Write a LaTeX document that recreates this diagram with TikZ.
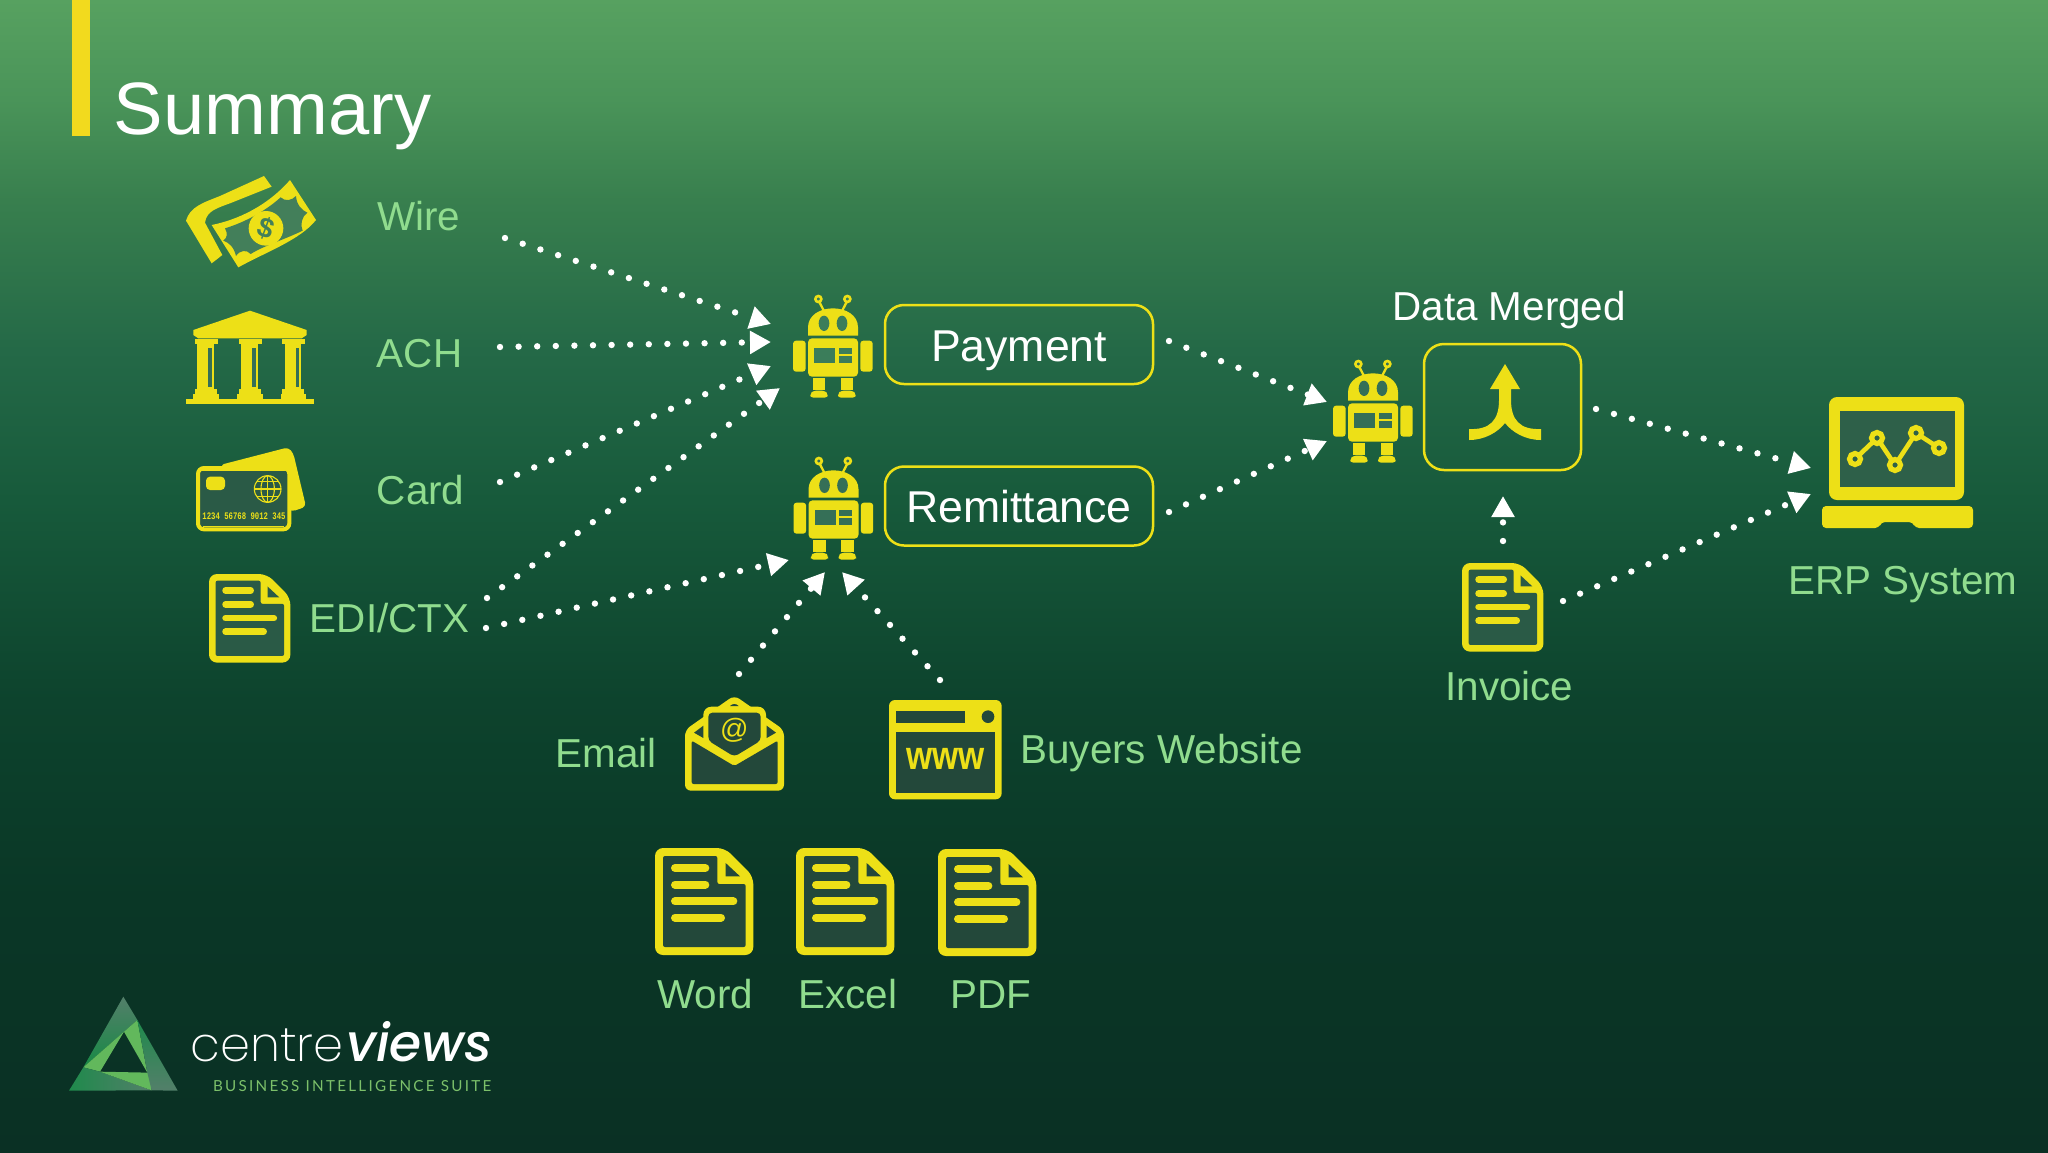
\documentclass[tikz,border=0pt]{standalone}
\usepackage{fontspec}
\usepackage{graphicx}
\setmainfont{Liberation Sans}
\newfontfamily\mymono{Liberation Mono}[Scale=1]
\newfontfamily\logolight{Poppins ExtraLight}
\newfontfamily\logobold{Poppins Medium Italic}
\newfontfamily\logotag[LetterSpace=15]{Lato}
\usetikzlibrary{arrows.meta,calc}
\definecolor{ylw}{HTML}{EDE017}
\definecolor{barylw}{HTML}{F2DA1E}
\definecolor{lbl}{HTML}{90DC8E}
\definecolor{tagc}{HTML}{7CC06A}
\definecolor{bg0}{HTML}{0A3024}
\definecolor{bg1}{HTML}{0A3726}
\definecolor{bg2}{HTML}{0D432D}
\definecolor{bg3}{HTML}{175A3B}
\definecolor{bg4}{HTML}{246947}
\definecolor{bg5}{HTML}{387F4E}
\definecolor{bg6}{HTML}{4A9459}
\definecolor{bg7}{HTML}{57A160}
\definecolor{inA}{HTML}{3B7D5A}
\definecolor{inB}{HTML}{356F57}
\definecolor{inC}{HTML}{2E6049}
\definecolor{inD}{HTML}{2A5A46}
\definecolor{inE}{HTML}{23483A}
\definecolor{billin}{HTML}{437F5A}
\definecolor{logoA}{HTML}{1F8A4C}
\definecolor{logoB}{HTML}{537F6A}
\definecolor{logoC}{HTML}{62B85C}
\definecolor{logoD}{HTML}{178A45}
\pgfdeclareverticalshading{bgshade}{100bp}{color(0bp)=(bg0); color(25bp)=(bg0); color(36bp)=(bg1); color(44.6bp)=(bg2); color(53.3bp)=(bg3); color(59.8bp)=(bg4); color(66.3bp)=(bg5); color(70.7bp)=(bg6); color(75bp)=(bg7); color(100bp)=(bg7)}
\tikzset{
  x=0.5pt,y=-0.5pt,
  lab/.style={font=\fontsize{20.2pt}{24pt}\selectfont,text=lbl,inner sep=0pt},
  whitelab/.style={font=\fontsize{20.2pt}{24pt}\selectfont,text=white,inner sep=0pt},
  flowbox/.style={draw=ylw,line width=1.25pt,rounded corners=9.5pt,inner sep=0pt,minimum width=134pt,minimum height=39.5pt,text=white,font=\fontsize{22.3pt}{26pt}\selectfont,text height=16.5pt,text depth=0pt},
  dotflow/.style={white,line width=3.2pt,line cap=round,dash pattern=on 0pt off 9.3pt,-{Triangle[length=10.5pt,width=11pt]}},
}
\newcommand{\docicon}[4]{%
  \begin{scope}[shift={(#1,#2)},scale=#3]
    \fill[ylw,rounded corners=4pt] (0,0) -- (210,0) -- (295,85) -- (295,321) -- (0,321) -- cycle;
    \fill[#4,rounded corners=1pt] (24,24) -- (187,24) -- (187,108) -- (272,108) -- (272,297) -- (24,297) -- cycle;
    \fill[#4] (212,45) -- (255,85) -- (212,85) -- cycle;
    \foreach \ya/\xb in {60/151,110/151,160/235,209/198}
      \draw[ylw,line cap=round,line width={(#3)*12pt}] (60,\ya) -- (\xb,\ya);
  \end{scope}}
\newcommand{\roboticon}[3]{%
  \begin{scope}[shift={(#1,#2)},scale=1/3,shift={(-98,-75)}]
    \fill[ylw] (143,197) -- (143,172) .. controls (143,135) and (180,115) .. (218,115) .. controls (256,115) and (293,135) .. (293,172) -- (293,197) -- cycle;
    \fill[#3] (191,160) ellipse [x radius=16,y radius=23];
    \fill[#3] (245,160) ellipse [x radius=16,y radius=23];
    \fill[ylw,rounded corners=2pt] (143,205) rectangle (293,320);
    \fill[ylw,rounded corners=1.5pt] (98,212) rectangle (136,305);
    \fill[ylw,rounded corners=1.5pt] (300,212) rectangle (337,305);
    \fill[ylw] (157,323) rectangle (195,360);
    \fill[ylw] (241,323) rectangle (279,360);
    \fill[ylw,rounded corners=1.5pt] (150,383) -- (150,372) -- (158,362) -- (194,362) -- (202,372) -- (202,383) -- cycle;
    \fill[ylw,rounded corners=1.5pt] (233,383) -- (233,372) -- (241,362) -- (278,362) -- (286,372) -- (286,383) -- cycle;
    \fill[#3] (162,234) rectangle (225,280);
    \fill[#3] (235,234) rectangle (274,252);
    \fill[#3] (235,258) rectangle (274,280);
    \draw[ylw,line width=1.15pt] (192,125) -- (177,96);
    \draw[ylw,line width=1.15pt] (244,125) -- (259,96);
    \draw[ylw,line width=1.3pt,fill=#3] (174,87) circle [radius=9];
    \draw[ylw,line width=1.3pt,fill=#3] (261,87) circle [radius=9];
  \end{scope}}
\begin{document}
\begin{tikzpicture}
\useasboundingbox (0,0) rectangle (2048,1152);
\shade[shading=bgshade] (0,0) rectangle (2048,1152);
% title
\fill[barylw] (72,0) rectangle (90,136);
\node[anchor=base west,inner sep=0pt,text=white,font=\fontsize{37.1pt}{44pt}\selectfont] (title) at (113.5,134) {Summary};
% Wire, bank, card icons, drawn in the coordinates of the 3x crop
\begin{scope}[shift={(160,160)},scale=1/3]
  % wire
  \fill[ylw] (78,182) .. controls (90,140) and (130,128) .. (180,108) -- (312,48) -- (335,80) -- (215,128) .. controls (170,145) and (140,152) .. (135,188) -- (187,285) -- (155,310) -- cycle;
  \fill[ylw] (155,195) .. controls (230,180) and (320,140) .. (390,60) -- (468,180) .. controls (420,240) and (320,275) .. (235,322) -- cycle;
  \fill[billin] (195,205) .. controls (260,185) and (320,150) .. (362,112) .. controls (375,125) and (395,122) .. (408,108) .. controls (410,135) and (425,150) .. (442,158) .. controls (425,170) and (420,195) .. (428,212) .. controls (370,240) and (310,258) .. (272,282) .. controls (260,268) and (240,270) .. (228,288) .. controls (222,262) and (208,248) .. (190,242) .. controls (203,232) and (203,220) .. (195,205) -- cycle;
  \fill[ylw] (318,205) circle [radius=52];
  \node[rotate=-20,inner sep=0pt,text=billin,font=\fontsize{14pt}{17pt}\selectfont\bfseries] (dollar) at (318,205) {\$};
  % bank
  \fill[ylw] (100,510) -- (270,452) -- (440,510) -- (440,525) -- (425,535) -- (115,535) -- (100,525) -- cycle;
  \foreach \cx in {105,237,367} {
    \fill[ylw] (\cx,538) rectangle (\cx+68,552);
    \fill[ylw] (\cx+7,552) rectangle (\cx+57,690);
    \fill[ylw] (\cx,688) rectangle (\cx+66,704);
    \fill[ylw] (\cx-5,702) rectangle (\cx+71,716);
    \fill[inB] (\cx+40,565) rectangle (\cx+50,680);
  }
  \fill[ylw] (78,718) rectangle (462,732);
  % card
  \fill[ylw,rounded corners=2pt] (180,915) -- (385,862) -- (400,880) -- (438,1040) -- (395,1055) -- cycle;
  \draw[ylw,line width=2pt,fill=inD,rounded corners=3pt] (114,924) rectangle (388,1108);
  \draw[ylw,line width=.5pt] (125,930) -- (378,930);
  \draw[ylw,line width=.8pt] (130,1100) -- (372,1100);
  \fill[ylw,rounded corners=2pt] (138,950) rectangle (195,990);
  \begin{scope}[ylw,line width=.55pt]
    \draw (323,987) circle [radius=40];
    \draw (323,987) ellipse [x radius=20,y radius=40];
    \draw (323,947) -- (323,1027);
    \draw (283,987) -- (363,987);
    \draw (290,965) -- (356,965);
    \draw (290,1009) -- (356,1009);
  \end{scope}
  \node[inner sep=0pt,text=ylw,font=\mymono\fontsize{5pt}{6pt}\selectfont\bfseries] (cardnum) at (252,1068) {\scalebox{.73}[1]{1234 56768 9012 345}};
\end{scope}
% document icons
\docicon{209}{574}{.276}{inD}
\docicon{655}{848}{1/3}{inE}
\docicon{796}{848}{1/3}{inE}
\docicon{938}{849}{1/3}{inE}
\docicon{1462}{563}{.276}{inD}
% robots
\roboticon{793}{295}{inA}
\roboticon{793.5}{457}{inB}
\roboticon{1333}{360}{inB}
% labels
\node[lab,anchor=base west] (wire) at (377,230) {Wire};
\node[lab,anchor=base west] (ach) at (376.5,367) {ACH};
\node[lab,anchor=base west] (card) at (376.5,504) {Card};
\node[lab,anchor=base west] (edi) at (309.5,632.5) {EDI/CTX};
\node[lab,anchor=base west] (email) at (555.5,767) {Email};
\node[lab,anchor=base west] (buyers) at (1020,763.5) {Buyers Website};
\node[lab,anchor=base west] (word) at (657,1008) {Word};
\node[lab,anchor=base west] (excel) at (798,1008) {Excel};
\node[lab,anchor=base west] (pdf) at (950,1008) {PDF};
\node[lab,anchor=base west] (invoice) at (1445,700) {Invoice};
\node[lab,anchor=base west] (erp) at (1788,594) {ERP System};
\node[whitelab,anchor=base west] (datamerged) at (1392,320.5) {Data Merged};
% boxes
\node[flowbox] (payment) at (1019,344.5) {Payment};
\node[flowbox] (remit) at (1019,506) {Remittance};
\node[draw=ylw,line width=1.25pt,rounded corners=10pt,minimum width=78.5pt,minimum height=63pt,inner sep=0pt] (merged) at (1502.5,407) {};
\fill[ylw] (1505,364) -- (1520,389) -- (1511,389) -- (1511,400) .. controls (1511,420) and (1520,430) .. (1541,429) -- (1541,440) .. controls (1525,440) and (1512,432) .. (1505,423) .. controls (1498,432) and (1485,440) .. (1469,440) -- (1469,429) .. controls (1490,430) and (1499,420) .. (1499,400) -- (1499,389) -- (1490,389) -- cycle;
% laptop
\fill[ylw,rounded corners=4pt] (1829,397) rectangle (1964,500);
\fill[inC] (1840,411) rectangle (1955,487);
\fill[ylw,rounded corners=2pt] (1822,506) -- (1973,506) -- (1973,528) -- (1915,528) -- (1913,522) -- (1881,522) -- (1879,528) -- (1822,528) -- cycle;
\draw[ylw,line width=2.3pt] (1855,459) -- (1877,438) -- (1895,465) -- (1916,433) -- (1939,448);
\foreach \px/\py in {1855/459,1877/438,1895/465,1916/433,1939/448}
  \draw[ylw,line width=2.6pt,fill=inC] (\px,\py) circle [radius=5.5];
% email icon
\begin{scope}[shift={(640,680)},scale=1/3]
  \fill[ylw,rounded corners=3pt] (135,150) -- (283,46) -- (432,150) -- (432,332) -- (135,332) -- cycle;
  \fill[ylw,rounded corners=4pt] (190,80) rectangle (378,210);
  \fill[inE] (270,78) .. controls (278,70) and (288,70) .. (296,78) -- cycle;
  \fill[inE,rounded corners=1pt] (155,182) -- (283,258) -- (413,182) -- (413,312) -- (155,312) -- cycle;
  \fill[inE,rounded corners=2pt] (205,98) -- (362,98) -- (362,182) -- (283,230) -- (205,182) -- cycle;
  \fill[inE] (162,158) -- (190,137) -- (190,174) -- cycle;
  \fill[inE] (380,137) -- (408,158) -- (380,174) -- cycle;
  \node[inner sep=0pt,text=ylw,font=\fontsize{14pt}{16pt}\selectfont] (atsign) at (283,152) {@};
  % website icon
  \fill[ylw,rounded corners=3pt] (747,60) rectangle (1085,358);
  \fill[inE] (768,92) rectangle (975,130);
  \fill[inE] (1044,110) circle [radius=19];
  \fill[inE] (768,155) rectangle (1065,338);
  \node[inner sep=0pt,text=ylw,font=\fontsize{20pt}{24pt}\selectfont\bfseries] (www) at (917,237) {\scalebox{.84}[1]{www}};
\end{scope}
% connectors
\coordinate (wireout) at (505,238);
\coordinate (achout) at (500,347);
\coordinate (cardout) at (500,482);
\coordinate (edioutA) at (487,598);
\coordinate (edioutB) at (486,628);
\coordinate (emailout) at (739,674);
\coordinate (buyersout) at (940,680);
\coordinate (wirein) at (771,324);
\coordinate (achin) at (771,342);
\coordinate (cardin) at (771,366);
\coordinate (ediinA) at (780,388);
\coordinate (ediinB) at (789,560);
\coordinate (emailin) at (825,572);
\coordinate (buyersin) at (842,572);
\coordinate (payout) at (1169,341);
\coordinate (remitout) at (1169,512);
\coordinate (mergeinA) at (1327,402);
\coordinate (mergeinB) at (1327,441);
\coordinate (mergeout) at (1596,409);
\coordinate (erpinA) at (1811,468);
\coordinate (erpinB) at (1811,494);
\coordinate (invoiceup) at (1503,541);
\coordinate (invoiceright) at (1563,601);
\coordinate (mergebottom) at (1503,496);
\draw[dotflow] (wireout) -- (wirein);
\draw[dotflow] (achout) -- (achin);
\draw[dotflow] (cardout) -- (cardin);
\draw[dotflow] (edioutA) -- (ediinA);
\draw[dotflow] (edioutB) -- (ediinB);
\draw[dotflow] (emailout) -- (emailin);
\draw[dotflow] (buyersout) -- (buyersin);
\draw[dotflow] (payout) -- (mergeinA);
\draw[dotflow] (remitout) -- (mergeinB);
\draw[dotflow] (mergeout) -- (erpinA);
\draw[dotflow] (invoiceup) -- (mergebottom);
\draw[dotflow] (invoiceright) -- (erpinB);
% logo
\begin{scope}[shift={(50,980)},scale=1/3]
  \shade[top color=logoB,bottom color=logoD] (220,50) -- (262,120) -- (222,155) -- (100,262) -- cycle;
  \fill[logoC] (100,262) -- (222,155) -- (150,275) -- cycle;
  \shade[left color=logoA,right color=logoB] (100,262) -- (150,275) -- (305,331) -- (57,332) -- cycle;
  \fill[logoC] (150,275) -- (300,278) -- (305,331) -- cycle;
  \fill[logoC] (222,155) -- (262,120) -- (292,278) -- cycle;
  \shade[top color=logoA,bottom color=logoB] (262,120) -- (383,332) -- (305,331) -- (292,278) -- cycle;
  \node[anchor=base west,inner sep=0pt,text=white,font=\logolight\fontsize{24pt}{30pt}\selectfont] (centre) at (420,245) {centre};
  \node[anchor=base west,inner sep=0pt,text=white,font=\logobold\fontsize{26pt}{30pt}\selectfont] (views) at (887,245) {views};
  \node[anchor=base west,inner sep=0pt,text=tagc,font=\logotag\fontsize{7.6pt}{9pt}\selectfont] (suite) at (488,333) {BUSINESS INTELLIGENCE SUITE};
\end{scope}
\end{tikzpicture}
\end{document}
